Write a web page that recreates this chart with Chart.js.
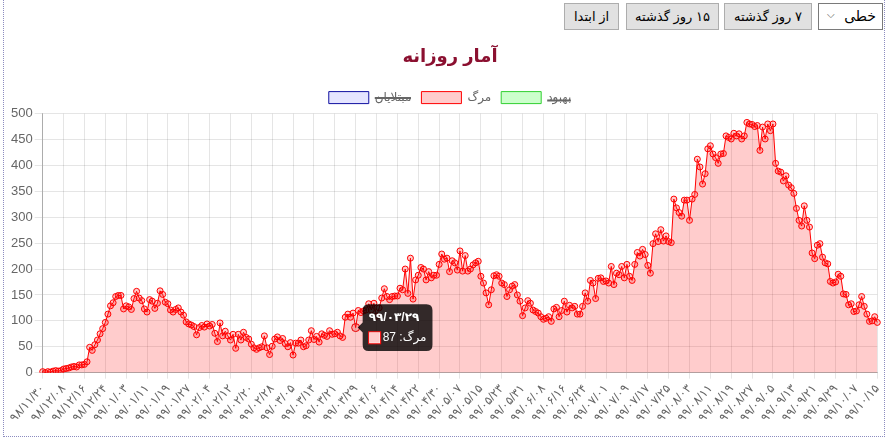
<!DOCTYPE html>
<html lang="fa">
<head>
<meta charset="utf-8">
<title>آمار روزانه</title>
<script src="https://cdn.jsdelivr.net/npm/chart.js@4.4.0/dist/chart.umd.min.js"></script>
<style>
  body { margin: 0; background: #fff; font-family: 'Liberation Sans', 'DejaVu Sans', sans-serif; }
  #wrap { position: absolute; left: 3px; top: -1px; width: 880px; height: 436px; border: 1px dotted #8c8cc0; }
  .btn { position: absolute; top: 3px; height: 25px; line-height: 25px; background: #e1e1e1; border: 1px solid #adadad;
         font-size: 13px; color: #000; text-align: center; direction: rtl; }
  #sel { position: absolute; top: 3px; left: 814px; width: 63px; height: 25px; line-height: 25px; border: 1px solid #7a7a7a;
         background: #fff; font-size: 14px; direction: rtl; }
  #sel span { position: absolute; right: 6px; }
  #sel i { position: absolute; left: 8px; top: -2px; font-style: normal; font-size: 10px; color: #555; }
  #box { position: absolute; left: 0; top: 35px; width: 887px; height: 400px; }
</style>
</head>
<body>
<div id="wrap">
  <div id="sel"><span>خطی</span><i>&#x2335;</i></div>
  <div class="btn" style="left:720px;width:86px">۷ روز گذشته</div>
  <div class="btn" style="left:622px;width:91px">۱۵ روز گذشته</div>
  <div class="btn" style="left:560px;width:53px">از ابتدا</div>
  <div id="box"><canvas id="canvas"></canvas></div>
</div>
<script>
// daily deaths from 98/11/30 to 99/10/15
const deaths = [
  2, 0, 2, 1, 3, 4, 3, 4, 7, 8,
  9, 11, 12, 11, 15, 15, 16, 21, 49, 43,
  54, 63, 75, 85, 97, 113, 129, 135, 147, 149,
  149, 123, 129, 127, 122, 143, 157, 144, 139, 123,
  117, 141, 138, 124, 134, 158, 151, 136, 133, 121,
  117, 122, 125, 117, 111, 98, 94, 92, 89, 73,
  87, 91, 88, 94, 90, 93, 76, 60, 96, 71,
  80, 71, 63, 74, 47, 74, 63, 78, 68, 65,
  55, 48, 45, 48, 50, 71, 48, 35, 51, 65,
  69, 62, 66, 56, 50, 58, 34, 57, 57, 63,
  50, 52, 63, 81, 64, 70, 59, 75, 72, 70,
  81, 74, 75, 78, 71, 68, 107, 113, 107, 115,
  87, 120, 116, 119, 121, 133, 121, 134, 109, 125,
  144, 162, 147, 141, 147, 148, 148, 163, 160, 200,
  153, 221, 142, 179, 188, 203, 200, 179, 195, 183,
  188, 188, 209, 229, 219, 221, 195, 216, 212, 198,
  235, 196, 226, 196, 200, 208, 212, 215, 186, 173,
  154, 131, 160, 187, 189, 186, 173, 170, 147, 160,
  167, 170, 150, 138, 110, 125, 139, 134, 121, 118,
  115, 108, 103, 105, 108, 99, 123, 126, 108, 120,
  138, 117, 130, 125, 128, 113, 113, 128, 154, 138,
  178, 173, 143, 182, 183, 176, 177, 173, 205, 170,
  192, 189, 205, 183, 209, 186, 178, 209, 232, 225,
  238, 228, 207, 192, 249, 268, 253, 276, 254, 264,
  253, 251, 335, 318, 309, 302, 333, 333, 294, 335,
  344, 412, 397, 364, 384, 432, 438, 422, 415, 404,
  422, 423, 457, 454, 451, 462, 457, 461, 451, 457,
  483, 480, 479, 475, 477, 429, 474, 451, 480, 467,
  480, 404, 389, 387, 370, 380, 362, 357, 346, 317,
  294, 283, 322, 294, 281, 231, 220, 246, 249, 223,
  212, 210, 176, 173, 175, 190, 186, 152, 151, 131,
  133, 118, 119, 131, 147, 128, 113, 99, 100, 108,
  97
];
const infected = [];
const recovered = [];

// persian calendar labels
const startDate = [98, 11, 30];
const monthDays = [31, 31, 31, 31, 31, 31, 30, 30, 30, 30, 30, 29];
const faDigits = '۰۱۲۳۴۵۶۷۸۹';
const tickEvery = 8;
const tooltipIndex = 120;

function fa(n) {
  return String(n).padStart(2, '0').replace(/\d/g, d => faDigits[d]);
}
let labels = [];
let y = startDate[0], m = startDate[1], d = startDate[2];
for (let i = 0; i < deaths.length; i++) {
  labels.push(fa(y) + '/' + fa(m) + '/' + fa(d));
  d++;
  if (d > monthDays[m - 1]) { d = 1; m++; }
  if (m > 12) { m = 1; y++; }
}

Chart.defaults.font.family = "'Liberation Sans', 'DejaVu Sans', sans-serif";
Chart.defaults.color = '#666';

const ctx = document.getElementById('canvas').getContext('2d');
const myChart = new Chart(ctx, {
  type: 'line',
  data: {
    labels: labels,
    datasets: [{
      label: 'مبتلایان',
      data: infected,
      backgroundColor: 'rgba(0,0,255,0.1)',
      borderColor: '#1010a0',
      borderWidth: 1,
      hidden: true
    }, {
      label: 'مرگ',
      data: deaths,
      backgroundColor: 'rgba(255,0,0,0.2)',
      borderColor: 'red',
      borderWidth: 1,
      pointRadius: 3,
      pointBorderWidth: 1,
      pointBackgroundColor: 'rgba(255,0,0,0.2)',
      tension: 0,
      fill: true
    }, {
      label: 'بهبود',
      data: recovered,
      backgroundColor: 'rgba(0,255,0,0.2)',
      borderColor: '#30d030',
      borderWidth: 1,
      hidden: true
    }]
  },
  options: {
    responsive: true,
    maintainAspectRatio: false,
    animation: false,
    layout: { padding: { left: 5, bottom: 7 } },
    plugins: {
      title: {
        display: true,
        text: 'آمار روزانه',
        color: '#8b1030',
        font: { size: 18, weight: 'bold' },
        padding: { top: 11, bottom: 14 }
      },
      legend: {
        labels: { boxWidth: 40, boxHeight: 12, font: { size: 12 } }
      },
      tooltip: {
        titleFont: { size: 12, weight: 'bold' },
        bodyFont: { size: 12 },
        cornerRadius: 6
      }
    },
    scales: {
      x: {
        grid: { color: 'rgba(0,0,0,0.1)', tickLength: 6 },
        border: { color: 'rgba(0,0,0,0.25)' },
        ticks: {
          autoSkip: false,
          minRotation: 48,
          maxRotation: 48,
          font: { size: 12 },
          callback: function (v, i) { return i % tickEvery === 0 ? labels[i] : null; }
        }
      },
      y: {
        min: 0,
        max: 500,
        grid: { color: 'rgba(0,0,0,0.1)', tickLength: 8 },
        border: { color: 'rgba(0,0,0,0.25)' },
        ticks: { stepSize: 50, font: { size: 13 }, padding: 2 }
      }
    }
  }
});

const active = [{ datasetIndex: 1, index: tooltipIndex }];
myChart.setActiveElements(active);
myChart.tooltip.setActiveElements(active, { x: 0, y: 0 });
myChart.update();
</script>
</body>
</html>
